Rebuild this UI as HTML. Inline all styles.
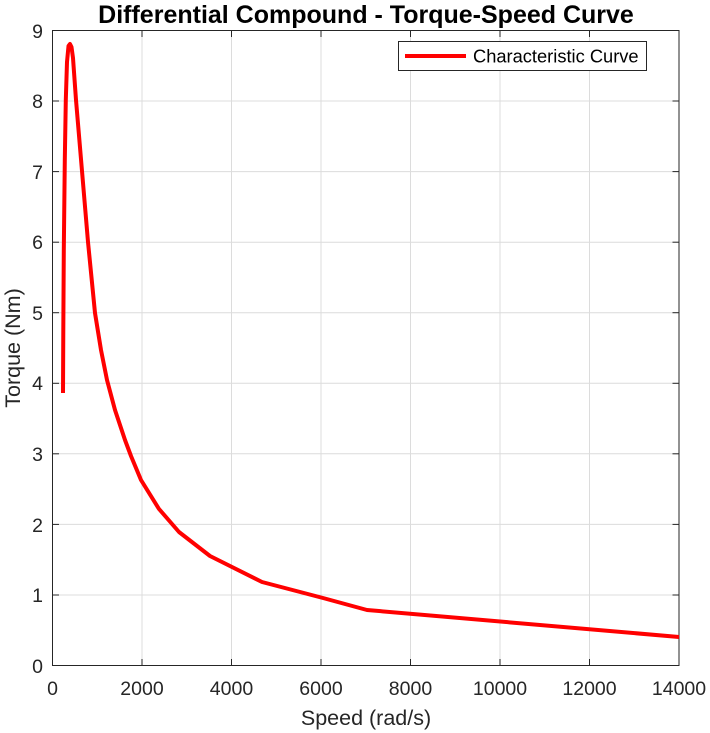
<!DOCTYPE html>
<html><head><meta charset="utf-8"><style>
html,body{margin:0;padding:0;background:#fff;}
svg{display:block;font-family:"Liberation Sans",Arial,sans-serif;}
</style></head><body>
<svg width="710" height="733" viewBox="0 0 710 733" xmlns="http://www.w3.org/2000/svg">
<rect width="710" height="733" fill="#fff"/>
<g stroke="#dcdcdc" stroke-width="1">
<line x1="142" y1="30.5" x2="142" y2="665.5"/>
<line x1="231.5" y1="30.5" x2="231.5" y2="665.5"/>
<line x1="321" y1="30.5" x2="321" y2="665.5"/>
<line x1="410.5" y1="30.5" x2="410.5" y2="665.5"/>
<line x1="500" y1="30.5" x2="500" y2="665.5"/>
<line x1="589.5" y1="30.5" x2="589.5" y2="665.5"/>
<line x1="52.5" y1="595" x2="679" y2="595"/>
<line x1="52.5" y1="524.4" x2="679" y2="524.4"/>
<line x1="52.5" y1="453.8" x2="679" y2="453.8"/>
<line x1="52.5" y1="383.3" x2="679" y2="383.3"/>
<line x1="52.5" y1="312.7" x2="679" y2="312.7"/>
<line x1="52.5" y1="242.2" x2="679" y2="242.2"/>
<line x1="52.5" y1="171.6" x2="679" y2="171.6"/>
<line x1="52.5" y1="101" x2="679" y2="101"/>
</g>
<rect x="52.5" y="30.5" width="626.5" height="635" fill="none" stroke="#262626" stroke-width="1"/>
<g stroke="#262626" stroke-width="1">
<line x1="142" y1="665.5" x2="142" y2="659"/><line x1="231.5" y1="665.5" x2="231.5" y2="659"/><line x1="321" y1="665.5" x2="321" y2="659"/><line x1="410.5" y1="665.5" x2="410.5" y2="659"/><line x1="500" y1="665.5" x2="500" y2="659"/><line x1="589.5" y1="665.5" x2="589.5" y2="659"/>
<line x1="142" y1="30.5" x2="142" y2="37"/><line x1="231.5" y1="30.5" x2="231.5" y2="37"/><line x1="321" y1="30.5" x2="321" y2="37"/><line x1="410.5" y1="30.5" x2="410.5" y2="37"/><line x1="500" y1="30.5" x2="500" y2="37"/><line x1="589.5" y1="30.5" x2="589.5" y2="37"/>
<line x1="52.5" y1="595" x2="59" y2="595"/><line x1="52.5" y1="524.4" x2="59" y2="524.4"/><line x1="52.5" y1="453.8" x2="59" y2="453.8"/><line x1="52.5" y1="383.3" x2="59" y2="383.3"/><line x1="52.5" y1="312.7" x2="59" y2="312.7"/><line x1="52.5" y1="242.2" x2="59" y2="242.2"/><line x1="52.5" y1="171.6" x2="59" y2="171.6"/><line x1="52.5" y1="101" x2="59" y2="101"/>
<line x1="679" y1="595" x2="672.5" y2="595"/><line x1="679" y1="524.4" x2="672.5" y2="524.4"/><line x1="679" y1="453.8" x2="672.5" y2="453.8"/><line x1="679" y1="383.3" x2="672.5" y2="383.3"/><line x1="679" y1="312.7" x2="672.5" y2="312.7"/><line x1="679" y1="242.2" x2="672.5" y2="242.2"/><line x1="679" y1="171.6" x2="672.5" y2="171.6"/><line x1="679" y1="101" x2="672.5" y2="101"/>
</g>
<g fill="#262626" font-size="19.5" text-anchor="end">
<text x="43" y="673">0</text><text x="43" y="602">1</text><text x="43" y="532">2</text><text x="43" y="461">3</text><text x="43" y="390">4</text><text x="43" y="320">5</text><text x="43" y="249">6</text><text x="43" y="179">7</text><text x="43" y="108">8</text><text x="43" y="38">9</text>
</g>
<g fill="#262626" font-size="19.5" text-anchor="middle">
<text x="52.5" y="695">0</text><text x="142" y="695">2000</text><text x="231.5" y="695">4000</text><text x="321" y="695">6000</text><text x="410.5" y="695">8000</text><text x="500" y="695">10000</text><text x="589.5" y="695">12000</text><text x="679" y="695">14000</text>
<text x="366" y="725" font-size="21.5">Speed (rad/s)</text>
<text x="366" y="23" font-size="25" font-weight="bold" fill="#000">Differential Compound - Torque-Speed Curve</text>
</g>
<text transform="translate(20,348) rotate(-90)" font-size="21.5" fill="#262626" text-anchor="middle">Torque (Nm)</text>
<polyline fill="none" stroke="#ff0000" stroke-width="4" stroke-linejoin="round" points="63,393 63.3,330 63.8,250 64.8,160 65.8,100 67,62 68.5,46 70,44 71.5,47 73,58 76,100 82,171 88,242 95,313 101,350 107,380 115,410 125,440 131,456 141,480 159,509 179,532 210,556 262,582 323,598 367,610 679,637"/>
<rect x="398.5" y="41.5" width="248" height="29" fill="#fff" stroke="#262626" stroke-width="1"/>
<line x1="405" y1="56" x2="466" y2="56" stroke="#ff0000" stroke-width="4"/>
<text x="473" y="62.5" font-size="18.3" fill="#000">Characteristic Curve</text>
</svg>
</body></html>
